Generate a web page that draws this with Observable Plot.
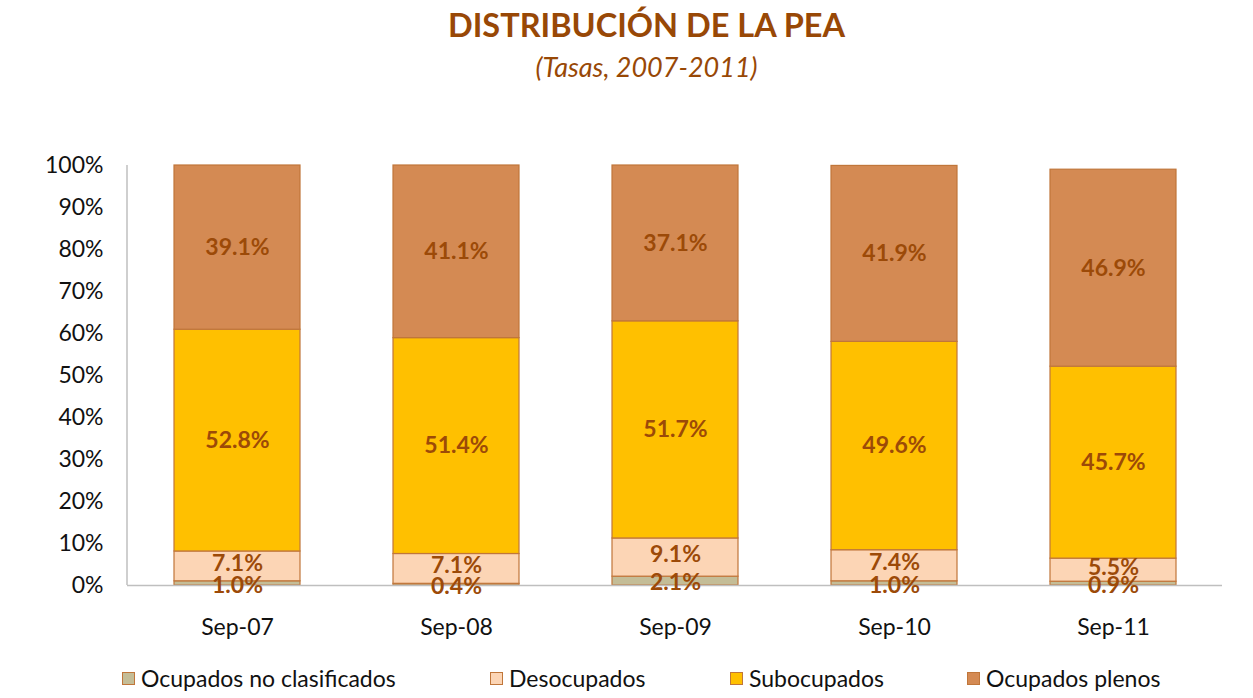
<!DOCTYPE html>
<html>
<head>
<meta charset="utf-8">
<script src="https://cdn.jsdelivr.net/npm/d3@7"></script>
<script src="https://cdn.jsdelivr.net/npm/@observablehq/plot@0.6"></script>
<style>
  html, body { margin: 0; padding: 0; background: #fff; }
  body { width: 1253px; height: 698px; font-family: Lato, "Noto Sans", sans-serif; overflow: hidden; position: relative; }
  #title { height: 100px; text-align: center; color: #984806; position: relative; }
  #title .t { position: absolute; left: 40px; right: 0; top: 5px; font-size: 32.5px; font-weight: bold; }
  #title .s { position: absolute; left: 40px; right: 0; top: 50px; font-size: 27px; font-style: italic; }
  #legend { position: absolute; top: 664px; left: 0; right: 0; font-size: 23px; color: #111; }
  .item { position: absolute; display: flex; align-items: center; white-space: nowrap; }
  .sw { width: 13px; height: 13px; margin-right: 6px; box-sizing: border-box; border: 1.5px solid #C0763A; }
</style>
</head>
<body>
<div id="title"><div class="t">DISTRIBUCIÓN DE LA PEA</div><div class="s">(Tasas, 2007-2011)</div></div>
<div id="chart"></div>
<div id="legend"></div>
<script>
const categories = ["Sep-07", "Sep-08", "Sep-09", "Sep-10", "Sep-11"];
const series = ["Ocupados no clasificados", "Desocupados", "Subocupados", "Ocupados plenos"];
const colors = ["#C4BD97", "#FCD5B5", "#FFC000", "#D48A53"];
const noClasificados = [1.0, 0.4, 2.1, 1.0, 0.9];
const desocupados = [7.1, 7.1, 9.1, 7.4, 5.5];
const subocupados = [52.8, 51.4, 51.7, 49.6, 45.7];
const plenos = [39.1, 41.1, 37.1, 41.9, 46.9];
const yTicks = [0, 10, 20, 30, 40, 50, 60, 70, 80, 90, 100];

const seriesValues = [noClasificados, desocupados, subocupados, plenos];
const data = [];
series.forEach((s, si) => categories.forEach((c, ci) => data.push({cat: c, serie: s, value: seriesValues[si][ci]})));

const leftLine = (index, scales, values, dims) => {
  const g = d3.create("svg:line")
    .attr("x1", dims.marginLeft).attr("x2", dims.marginLeft)
    .attr("y1", scales.y(100)).attr("y2", scales.y(0))
    .attr("stroke", "#BFBFBF").attr("stroke-width", 1.5);
  return g.node();
};

const labelOpts = (dy, keep) => Plot.stackY({
  x: "cat", y: "value", z: "serie", order: series,
  text: d => keep.includes(d.serie) ? d.value.toFixed(1) + "%" : "",
  fill: "#9C4A08", fontWeight: "bold", fontSize: 23, dy
});

const chart = Plot.plot({
  width: 1253,
  height: 545,
  marginLeft: 127,
  marginRight: 31,
  marginTop: 65,
  marginBottom: 60,
  style: {fontFamily: "Lato, 'Noto Sans', sans-serif", fontSize: "23px", color: "#111", background: "#fff"},
  x: {domain: categories, paddingInner: 0.425, paddingOuter: 0.2125, label: null},
  y: {domain: [0, 100], label: null},
  color: {domain: series, range: colors},
  marks: [
    Plot.axisY({ticks: yTicks, tickSize: 0, tickPadding: 24, tickFormat: d => d + "%", fontSize: 23, label: null}),
    Plot.axisX({tickSize: 0, tickPadding: 33, fontSize: 23, label: null}),
    Plot.barY(data, {x: "cat", y: "value", fill: "serie", order: series, stroke: "#C0763A", strokeWidth: 1.2}),
    Plot.ruleY([0], {stroke: "#BFBFBF", strokeWidth: 1.5}),
    leftLine,
    Plot.text(data, labelOpts(2, [series[0]])),
    Plot.text(data, labelOpts(-3, [series[1]])),
    Plot.text(data, labelOpts(0, [series[2], series[3]]))
  ]
});
document.getElementById("chart").appendChild(chart);

const legendPos = [122, 490, 730, 967];
const legend = document.getElementById("legend");
series.forEach((s, i) => {
  const it = document.createElement("div");
  it.className = "item";
  it.style.left = legendPos[i] + "px";
  const sw = document.createElement("span");
  sw.className = "sw";
  sw.style.background = colors[i];
  const tx = document.createElement("span");
  tx.textContent = s;
  it.appendChild(sw); it.appendChild(tx);
  legend.appendChild(it);
});
</script>
</body>
</html>
